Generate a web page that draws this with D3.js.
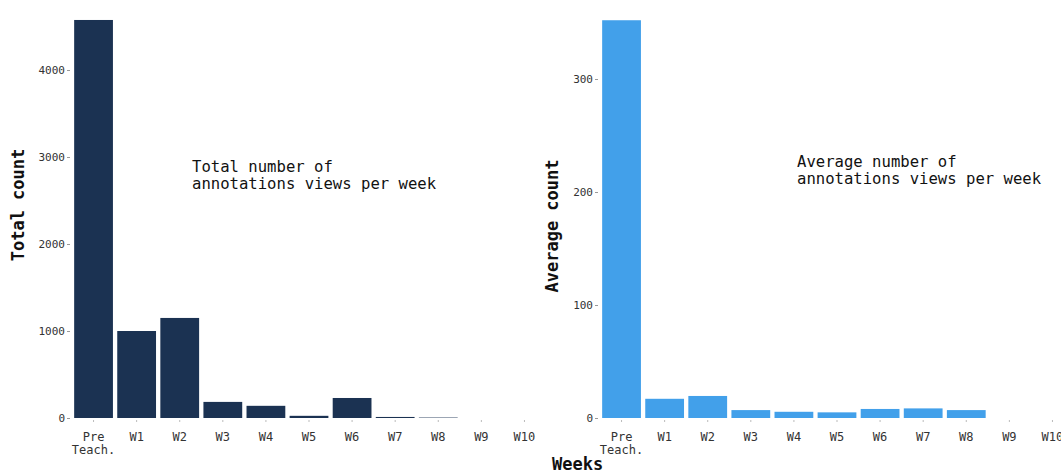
<!DOCTYPE html>
<html><head><meta charset="utf-8">
<script src="https://cdn.jsdelivr.net/npm/d3@7/dist/d3.min.js"></script>
<style>body{margin:0;background:#fff}svg{display:block}</style>
</head><body>
<svg id="c" width="1061" height="474"></svg>
<script>
const categories = ["Pre Teach.","W1","W2","W3","W4","W5","W6","W7","W8","W9","W10"];
const totalCounts = [4575,1000,1150,185,140,25,230,12,5,0,0];
const avgCounts = [352,17,19.5,7,5.5,5,8,8.5,7,0,0];
const totalTicks = [0,1000,2000,3000,4000];
const avgTicks = [0,100,200,300];

const svg = d3.select("#c");
const mono = "'DejaVu Sans Mono', monospace";

function panel(opts){
  const x = d3.scaleBand().domain(categories).range(opts.xr).paddingInner(0.1).paddingOuter(0.05);
  const y = d3.scaleLinear().domain(opts.yd).range(opts.yr);
  const g = svg.append("g");
  g.selectAll("rect").data(opts.values).join("rect")
    .attr("x",(d,i)=>x(categories[i]))
    .attr("width",x.bandwidth())
    .attr("y",d=>y(d))
    .attr("height",d=>y(0)-y(d))
    .attr("fill",opts.color);
  const ya = g.append("g").attr("transform",`translate(${opts.xr[0]-2},0)`)
    .call(d3.axisLeft(y).tickValues(opts.ticks).tickSize(3).tickPadding(2).tickFormat(d3.format("d")));
  ya.select(".domain").remove();
  ya.selectAll("line").attr("stroke","#999");
  ya.selectAll("text").attr("font-family",mono).attr("font-size",11).attr("fill","#333");
  const xa = g.append("g").attr("transform",`translate(0,${opts.yr[0]+2})`)
    .call(d3.axisBottom(x).tickSize(2).tickPadding(10));
  xa.select(".domain").remove();
  xa.selectAll("line").attr("stroke","#bbb");
  xa.selectAll("text").attr("font-family",mono).attr("font-size",12).attr("fill","#333")
    .each(function(d){
      const t = d3.select(this);
      const parts = d.split(" ");
      if(parts.length>1){
        t.text(null);
        parts.forEach((p,i)=>t.append("tspan").attr("x",0).attr("dy",i?"1.15em":"0.71em").text(p));
        t.attr("dy",null);
      }
    });
  svg.append("text").attr("transform",`translate(${opts.ylx},${opts.yly}) rotate(-90)`)
    .attr("text-anchor","middle").attr("font-family",mono).attr("font-weight","bold")
    .attr("font-size",17).attr("fill","#111").text(opts.ylabel);
  const ann = svg.append("text").attr("font-family",mono).attr("font-size",15.6).attr("fill","#111");
  opts.ann.forEach((l,i)=>ann.append("tspan").attr("x",opts.annx).attr("y",opts.anny+i*17).text(l));
}

panel({xr:[72,546], yd:[0,4600], yr:[418,418-4.6*87], values:totalCounts, ticks:totalTicks,
  color:"#1b3252", ylabel:"Total count", ylx:24, yly:205,
  ann:["Total number of","annotations views per week"], annx:192, anny:172});
panel({xr:[600,1074], yd:[0,355], yr:[418,418-3.55*113], values:avgCounts, ticks:avgTicks,
  color:"#42a0ea", ylabel:"Average count", ylx:558, yly:226,
  ann:["Average number of","annotations views per week"], annx:797, anny:167});

svg.append("text").attr("x",552).attr("y",470).attr("font-family",mono).attr("font-weight","bold")
  .attr("font-size",17).attr("fill","#111").text("Weeks");
</script>
</body></html>
